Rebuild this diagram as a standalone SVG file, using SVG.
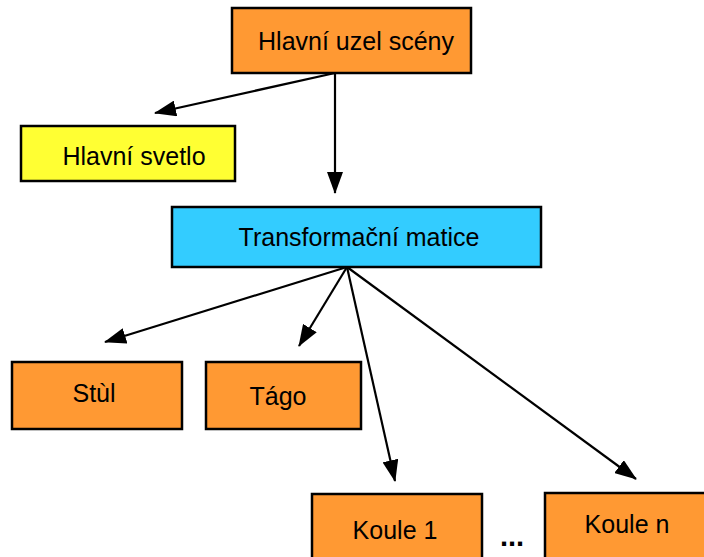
<svg xmlns="http://www.w3.org/2000/svg" width="704" height="557" viewBox="0 0 704 557">
<defs>
<style>
.box{stroke:#000;stroke-width:2.5}
.or{fill:#FF9933}
.ye{fill:#FFFF33}
.bl{fill:#33CCFF}
.t{font-family:"Liberation Sans",Arial,sans-serif;font-size:25px;fill:#000;text-anchor:middle}
.c{stroke:#000;stroke-width:2.2;fill:none;marker-end:url(#ah)}
</style>
<marker id="ah" markerUnits="userSpaceOnUse" markerWidth="22" markerHeight="16" viewBox="0 0 22 16" refX="21" refY="8" orient="auto">
<path d="M0,0 L22,8 L0,16 z" fill="#000"/>
</marker>
</defs>
<g id="connectors">
<line class="c" x1="335" y1="73" x2="155" y2="113"/>
<line class="c" x1="335" y1="73" x2="335" y2="193"/>
<line class="c" x1="347" y1="267" x2="105" y2="342"/>
<line class="c" x1="347" y1="267" x2="299" y2="346"/>
<line class="c" x1="347" y1="267" x2="395" y2="481"/>
<line class="c" x1="347" y1="267" x2="636" y2="479"/>
</g>
<g id="hlavni-uzel">
<rect class="box or" x="232" y="8" width="239" height="65"/>
<text class="t" x="356" y="50">Hlavní uzel scény</text>
</g>
<g id="hlavni-svetlo">
<rect class="box ye" x="21" y="126" width="214" height="55"/>
<text class="t" x="134" y="165">Hlavní svetlo</text>
</g>
<g id="transformacni-matice">
<rect class="box bl" x="172" y="207" width="369" height="60"/>
<text class="t" x="359" y="246">Transformační matice</text>
</g>
<g id="stul">
<rect class="box or" x="12" y="362" width="170" height="67"/>
<text class="t" x="94" y="402">Stùl</text>
</g>
<g id="tago">
<rect class="box or" x="206" y="362" width="155" height="67"/>
<text class="t" x="278" y="405">Tágo</text>
</g>
<g id="koule-1">
<rect class="box or" x="312" y="494" width="170" height="70"/>
<text class="t" x="395" y="539">Koule 1</text>
</g>
<g id="dots">
<text class="t" x="512" y="546" style="font-weight:bold;font-size:29px">...</text>
</g>
<g id="koule-n">
<rect class="box or" x="545" y="493" width="170" height="70"/>
<text class="t" x="627" y="533">Koule n</text>
</g>
</svg>
